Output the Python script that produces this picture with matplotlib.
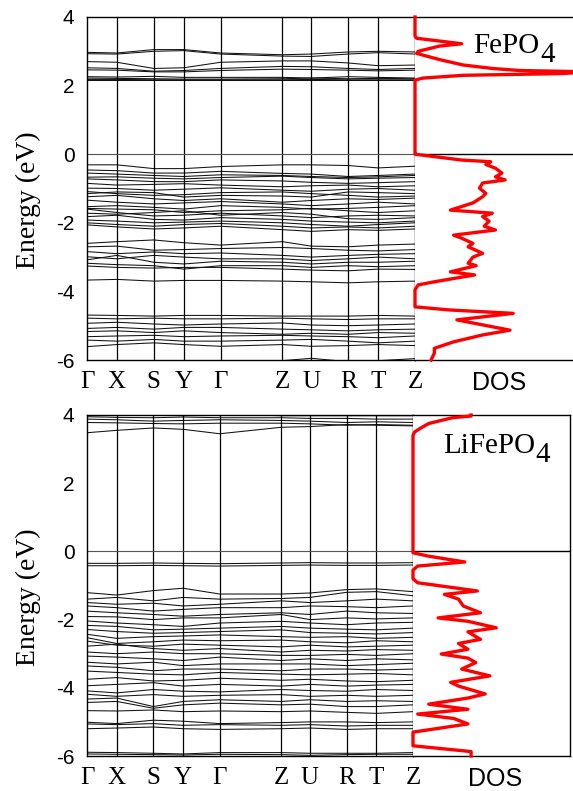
import matplotlib
matplotlib.use("Agg")
import matplotlib.pyplot as plt

# k-path (high-symmetry points and their distances along the path)
k_labels = ["\u0393", "X", "S", "Y", "\u0393", "Z", "U", "R", "T", "Z"]
k_nodes = [0, 30, 67, 97, 134, 196, 225, 262, 292, 329]

ytick_vals = [-6, -4, -2, 0, 2, 4]
ytick_labels = ["-6", "-4", "-2", "0", "2", "4"]

# FePO4 bands (eV at each k node)
fepo4_bands = [
    [2.97, 2.95, 3.05, 3.05, 2.95, 2.90, 2.92, 2.98, 3.00, 2.98],
    [2.93, 2.92, 3.00, 3.02, 2.92, 2.86, 2.85, 2.92, 2.96, 2.92],
    [2.70, 2.68, 2.50, 2.52, 2.68, 2.72, 2.72, 2.66, 2.58, 2.60],
    [2.52, 2.50, 2.42, 2.44, 2.50, 2.56, 2.55, 2.50, 2.47, 2.50],
    [2.46, 2.45, 2.40, 2.40, 2.44, 2.48, 2.47, 2.45, 2.43, 2.45],
    [2.26, 2.25, 2.27, 2.24, 2.24, 2.24, 2.22, 2.26, 2.24, 2.22],
    [2.22, 2.21, 2.20, 2.19, 2.19, 2.20, 2.22, 2.20, 2.21, 2.20],
    [2.18, 2.18, 2.17, 2.17, 2.17, 2.17, 2.18, 2.17, 2.17, 2.17],
    [2.15, 2.15, 2.15, 2.15, 2.15, 2.15, 2.15, 2.15, 2.15, 2.15],
    [-0.31, -0.31, -0.42, -0.42, -0.36, -0.31, -0.31, -0.33, -0.40, -0.35],
    [-0.46, -0.48, -0.55, -0.55, -0.50, -0.56, -0.58, -0.65, -0.62, -0.58],
    [-0.55, -0.58, -0.62, -0.65, -0.60, -0.62, -0.65, -0.68, -0.66, -0.62],
    [-0.67, -0.66, -0.70, -0.72, -0.68, -0.64, -0.68, -0.72, -0.70, -0.68],
    [-0.72, -0.75, -0.80, -0.80, -0.75, -0.78, -0.82, -0.85, -0.83, -0.80],
    [-0.85, -0.90, -0.88, -0.86, -0.90, -0.95, -0.92, -0.90, -0.95, -0.92],
    [-0.99, -1.00, -1.05, -1.02, -0.98, -1.05, -1.08, -1.02, -1.00, -1.05],
    [-1.09, -1.15, -1.20, -1.18, -1.12, -1.10, -1.15, -1.20, -1.25, -1.22],
    [-1.15, -1.10, -1.12, -1.25, -1.20, -1.22, -1.25, -1.10, -1.12, -1.15],
    [-1.24, -1.20, -1.30, -1.35, -1.30, -1.40, -1.35, -1.30, -1.32, -1.28],
    [-1.34, -1.40, -1.45, -1.42, -1.38, -1.45, -1.50, -1.45, -1.40, -1.45],
    [-1.53, -1.50, -1.55, -1.60, -1.50, -1.55, -1.60, -1.58, -1.55, -1.50],
    [-1.58, -1.60, -1.62, -1.70, -1.65, -1.62, -1.58, -1.65, -1.70, -1.65],
    [-1.60, -1.70, -1.80, -1.78, -1.72, -1.80, -1.85, -1.80, -1.78, -1.80],
    [-1.72, -1.75, -1.70, -1.65, -1.78, -1.70, -1.75, -1.88, -1.90, -1.85],
    [-1.82, -1.78, -1.90, -1.92, -1.85, -1.90, -1.95, -1.98, -2.00, -1.95],
    [-1.92, -1.95, -2.00, -1.98, -1.95, -2.00, -2.05, -2.10, -2.05, -2.00],
    [-2.00, -2.05, -2.10, -2.05, -2.02, -2.10, -2.15, -2.12, -2.15, -2.10],
    [-2.06, -2.12, -2.18, -2.15, -2.10, -2.20, -2.25, -2.20, -2.22, -2.18],
    [-2.60, -2.55, -2.50, -2.58, -2.65, -2.55, -2.68, -2.70, -2.65, -2.62],
    [-2.70, -2.68, -2.80, -2.78, -2.75, -2.72, -2.75, -2.80, -2.82, -2.78],
    [-2.84, -2.90, -2.85, -2.90, -2.88, -2.95, -3.00, -2.95, -2.92, -2.90],
    [-2.99, -3.05, -2.95, -3.00, -3.05, -3.05, -3.10, -3.05, -3.00, -3.05],
    [-3.08, -2.95, -3.15, -3.20, -3.12, -3.15, -3.20, -3.15, -3.15, -3.12],
    [-3.18, -3.22, -3.25, -3.35, -3.25, -3.25, -3.30, -3.25, -3.28, -3.25],
    [-3.26, -3.30, -3.32, -3.30, -3.30, -3.35, -3.38, -3.40, -3.35, -3.36],
    [-3.67, -3.65, -3.70, -3.68, -3.68, -3.70, -3.72, -3.75, -3.72, -3.70],
    [-4.69, -4.70, -4.72, -4.70, -4.70, -4.72, -4.72, -4.72, -4.70, -4.72],
    [-4.78, -4.80, -4.78, -4.80, -4.80, -4.78, -4.80, -4.82, -4.80, -4.80],
    [-4.93, -4.90, -4.95, -4.98, -4.95, -4.92, -4.98, -5.00, -4.98, -4.95],
    [-5.08, -5.05, -5.10, -5.05, -5.05, -5.10, -5.12, -5.15, -5.12, -5.10],
    [-5.17, -5.15, -5.20, -5.15, -5.20, -5.25, -5.22, -5.25, -5.20, -5.22],
    [-5.32, -5.30, -5.28, -5.32, -5.30, -5.28, -5.30, -5.32, -5.35, -5.30],
    [-5.42, -5.45, -5.40, -5.45, -5.45, -5.42, -5.40, -5.45, -5.50, -5.45],
    [-5.61, -5.55, -5.50, -5.55, -5.60, -5.55, -5.60, -5.58, -5.55, -5.58],
    [-6.10, -6.10, -6.10, -6.10, -6.10, -6.02, -5.95, -6.05, -6.02, -5.96],
]

# LiFePO4 bands (eV at each k node)
lifepo4_bands = [
    [4.02, 4.02, 4.00, 3.98, 4.02, 3.98, 3.98, 3.98, 3.98, 3.98],
    [3.95, 3.93, 3.92, 3.94, 3.92, 3.92, 3.90, 3.90, 3.88, 3.88],
    [3.88, 3.86, 3.82, 3.84, 3.86, 3.84, 3.82, 3.78, 3.80, 3.78],
    [3.78, 3.77, 3.75, 3.74, 3.76, 3.76, 3.74, 3.70, 3.72, 3.70],
    [3.48, 3.55, 3.62, 3.58, 3.45, 3.64, 3.66, 3.72, 3.70, 3.68],
    [-0.35, -0.35, -0.34, -0.35, -0.36, -0.34, -0.33, -0.34, -0.34, -0.33],
    [-0.42, -0.42, -0.41, -0.42, -0.43, -0.41, -0.40, -0.41, -0.41, -0.40],
    [-1.21, -1.28, -1.15, -1.08, -1.25, -1.25, -1.22, -1.12, -1.10, -1.18],
    [-1.40, -1.35, -1.45, -1.35, -1.40, -1.38, -1.35, -1.20, -1.18, -1.30],
    [-1.50, -1.55, -1.52, -1.60, -1.55, -1.45, -1.50, -1.45, -1.40, -1.45],
    [-1.60, -1.65, -1.75, -1.70, -1.65, -1.65, -1.60, -1.62, -1.65, -1.60],
    [-1.75, -1.80, -1.85, -1.90, -1.85, -1.80, -1.85, -1.75, -1.80, -1.82],
    [-1.91, -1.92, -2.00, -1.95, -1.95, -1.85, -2.00, -1.95, -1.98, -1.95],
    [-2.04, -2.10, -2.15, -2.20, -2.10, -2.05, -2.10, -2.15, -2.10, -2.08],
    [-2.17, -2.20, -2.30, -2.28, -2.25, -2.20, -2.25, -2.28, -2.30, -2.25],
    [-2.29, -2.35, -2.40, -2.38, -2.35, -2.30, -2.38, -2.40, -2.42, -2.38],
    [-2.43, -2.55, -2.50, -2.48, -2.45, -2.50, -2.52, -2.50, -2.55, -2.52],
    [-2.53, -2.70, -2.65, -2.60, -2.62, -2.60, -2.65, -2.68, -2.62, -2.65],
    [-2.63, -2.75, -2.78, -2.72, -2.75, -2.80, -2.75, -2.80, -2.78, -2.75],
    [-2.78, -2.72, -2.85, -2.90, -2.85, -2.95, -2.90, -2.92, -2.88, -2.90],
    [-2.95, -3.00, -2.95, -3.00, -3.00, -3.05, -3.05, -3.02, -3.05, -3.00],
    [-3.07, -3.10, -3.15, -3.20, -3.10, -3.20, -3.15, -3.20, -3.15, -3.18],
    [-3.25, -3.30, -3.25, -3.35, -3.30, -3.30, -3.30, -3.35, -3.32, -3.28],
    [-3.36, -3.40, -3.50, -3.45, -3.45, -3.50, -3.45, -3.45, -3.48, -3.45],
    [-3.51, -3.55, -3.60, -3.62, -3.55, -3.60, -3.62, -3.60, -3.58, -3.62],
    [-3.75, -3.70, -3.80, -3.78, -3.72, -3.78, -3.75, -3.80, -3.82, -3.78],
    [-3.94, -3.90, -3.85, -3.95, -3.90, -3.95, -3.90, -3.95, -3.92, -3.90],
    [-4.09, -4.15, -4.05, -4.10, -4.12, -4.05, -4.08, -4.10, -4.05, -4.08],
    [-4.19, -4.25, -4.20, -4.25, -4.22, -4.20, -4.25, -4.22, -4.25, -4.22],
    [-4.33, -4.30, -4.55, -4.40, -4.35, -4.40, -4.35, -4.40, -4.38, -4.40],
    [-4.43, -4.40, -4.60, -4.50, -4.45, -4.50, -4.48, -4.55, -4.55, -4.50],
    [-4.67, -4.68, -4.65, -4.70, -4.68, -4.70, -4.68, -4.72, -4.75, -4.70],
    [-5.01, -5.05, -4.95, -4.98, -5.05, -5.02, -5.00, -5.00, -5.02, -5.00],
    [-5.06, -5.08, -5.05, -5.10, -5.08, -5.10, -5.08, -5.12, -5.10, -5.10],
    [-5.20, -5.18, -5.15, -5.20, -5.22, -5.20, -5.18, -5.22, -5.20, -5.20],
    [-5.89, -5.90, -5.92, -5.94, -5.90, -5.90, -5.92, -5.92, -5.92, -5.90],
    [-5.94, -5.95, -5.96, -5.97, -5.95, -5.96, -5.98, -5.96, -5.95, -5.95],
]

# DOS curves (energy, density in arbitrary units)
fepo4_dos_e = [4.0, 3.45, 3.38, 3.30, 3.22, 3.15, 3.0, 2.94, 2.85, 2.75, 2.6, 2.50,
               2.44, 2.40, 2.35, 2.30, 2.22, 2.16, 0.02,
               0.0, -0.17, -0.22, -0.30, -0.41, -0.55, -0.66, -0.75, -0.84, -0.99,
               -1.14, -1.24, -1.42, -1.63, -1.72, -1.82, -1.95, -2.10, -2.21, -2.36,
               -2.45, -2.60, -2.70, -2.89, -3.00, -3.18, -3.25, -3.43, -3.52, -3.72,
               -3.81, -3.95, -4.15, -4.45, -4.54, -4.64, -4.83, -5.13, -5.27, -5.47,
               -5.66, -5.80, -6.0]
fepo4_dos = [0.0, 0.0, 0.1, 1.5, 2.9, 1.5, 0.2, 0.1, 0.8, 1.6, 3.0, 4.8,
             6.5, 11.0, 9.0, 3.0, 0.5, 0.0, 0.0,
             0.0, 2.9, 4.7, 4.4, 5.0, 5.4, 5.0, 5.6, 4.2, 4.0,
             4.4, 4.2, 3.6, 2.2, 4.8, 4.2, 4.6, 4.3, 5.0, 2.4,
             2.9, 3.6, 3.3, 4.2, 3.6, 3.3, 3.8, 2.2, 3.7, 1.2,
             0.2, 0.0, 0.0, 0.0, 2.1, 6.1, 2.6, 5.9, 4.2, 2.4,
             1.2, 1.2, 1.0]

lifepo4_dos_e = [4.0, 3.97, 3.92, 3.75, 3.62, 3.50, 3.40, 0.0,
                 -0.04, -0.14, -0.31, -0.43, -0.55, -0.80, -0.92, -1.16, -1.26,
                 -1.40, -1.60, -1.80, -1.95, -2.05, -2.24, -2.36, -2.58, -2.70,
                 -2.87, -3.01, -3.13, -3.26, -3.45, -3.65, -3.84, -3.95, -4.18,
                 -4.30, -4.48, -4.63, -4.77, -4.90, -5.06, -5.30, -5.50, -5.70,
                 -5.87, -6.0]
lifepo4_dos = [3.7, 3.7, 2.5, 1.0, 0.5, 0.1, 0.0, 0.0,
               0.0, 1.0, 3.3, 0.3, 0.0, 0.0, 0.3, 4.1, 2.0,
               2.9, 3.2, 4.3, 1.6, 3.5, 5.3, 3.5, 4.3, 2.9,
               3.5, 1.8, 3.5, 4.0, 3.1, 4.9, 2.4, 2.9, 4.6,
               3.5, 1.0, 3.5, 0.3, 2.6, 3.5, 0.0, 0.0, 0.0,
               3.7, 3.7]

panels = [
    ("FePO", fepo4_bands, fepo4_dos_e, fepo4_dos),
    ("LiFePO", lifepo4_bands, lifepo4_dos_e, lifepo4_dos),
]

plt.rcParams["font.family"] = "Liberation Serif"

W, H = 573, 791
fig = plt.figure(figsize=(W / 100, H / 100), dpi=100)

# pixel boxes: (band left, band right, dos right, top, bottom)
boxes = [(87, 415, 576, 17, 360), (87, 413, 570, 415, 756)]
# formula label positions (axes fraction in DOS panel)
label_pos = [(0.3625, 0.895), (0.191, 0.889)]

for (name, bands, dos_e, dos), (bl, br, dr, top, bot), lp in zip(panels, boxes, label_pos):
    y0 = 1 - bot / H
    h = (bot - top) / H
    ax = fig.add_axes([bl / W, y0, (br - bl) / W, h])
    axd = fig.add_axes([br / W, y0, (dr - br) / W, h])

    for b in bands:
        ax.plot(k_nodes, b, color="#111111", lw=0.75)
    for k in k_nodes[1:-1]:
        ax.axvline(k, color="black", lw=0.9)
    ax.axhline(0, color="#555555", lw=0.8)
    ax.set_xlim(k_nodes[0], k_nodes[-1])
    ax.set_ylim(-6, 4)
    ax.set_xticks(k_nodes)
    ax.set_xticklabels(k_labels, fontsize=18)
    ax.set_yticks(ytick_vals)
    ax.set_yticklabels(ytick_labels, fontsize=15, family="Liberation Sans")
    ax.tick_params(length=0, pad=8)
    ax.tick_params(axis="y", pad=9)
    for s in ax.spines.values():
        s.set_linewidth(1.0)

    axd.plot(dos, dos_e, color="red", lw=2.4, clip_on=False, zorder=5)
    axd.axhline(0, color="black", lw=1.0)
    axd.set_xlim(0, 10)
    axd.set_ylim(-6, 4)
    axd.set_yticks([])
    axd.set_xticks([5.2])
    axd.set_xticklabels(["DOS"], fontsize=18, family="Liberation Sans")
    axd.tick_params(length=0, pad=8)
    axd.spines["left"].set_visible(False)
    for s in axd.spines.values():
        s.set_linewidth(1.0)

    t = axd.text(lp[0], lp[1], name, transform=axd.transAxes, fontsize=21,
                 ha="left", va="baseline")
    axd.annotate("4", xy=(1, 0), xycoords=t, xytext=(0.5, -2.5),
                 textcoords="offset points", fontsize=21, ha="left", va="baseline")

    fig.text(28 / W, 1 - ((top + bot) / 2 + 12) / H, "Energy (eV)", rotation=90,
             fontsize=20, ha="center", va="center")

fig.savefig("out.png", dpi=100)
